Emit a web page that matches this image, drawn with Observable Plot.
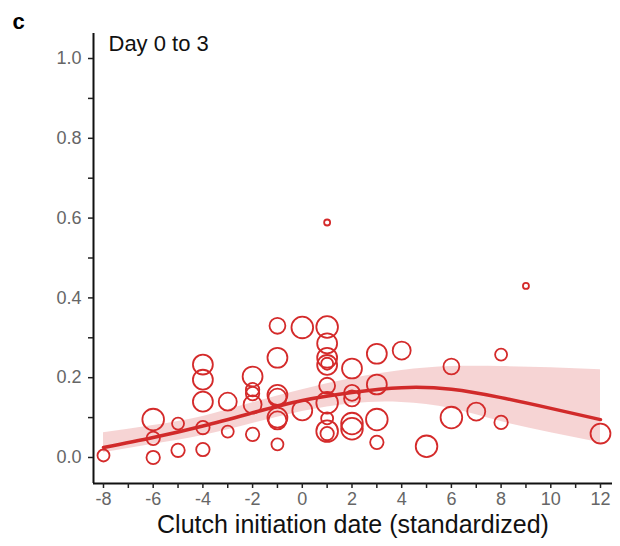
<!DOCTYPE html>
<html>
<head>
<meta charset="utf-8">
<script src="https://cdn.jsdelivr.net/npm/d3@7"></script>
<script src="https://cdn.jsdelivr.net/npm/@observablehq/plot@0.6"></script>
<style>
  body { margin: 0; background: #fff; }
</style>
</head>
<body>
<div id="chart"></div>
<script>
// Observed points: clutch initiation date, proportion, sample size
const ptX = [-8, -6, -6, -6, -5, -5, -4, -4, -4, -4, -4, -3, -3,
  -2, -2, -2, -2, -2, -1, -1, -1, -1, -1, -1, -1, 0, 0,
  1, 1, 1, 1, 1, 1, 1, 1, 1, 1, 1,
  2, 2, 2, 2, 2, 3, 3, 3, 3, 4, 5, 6, 6, 7, 8, 8, 9, 12];
const ptY = [0.005, 0.095, 0.048, 0.0, 0.085, 0.018, 0.233, 0.195, 0.14, 0.075, 0.02, 0.14, 0.065,
  0.203, 0.17, 0.16, 0.133, 0.058, 0.33, 0.25, 0.157, 0.15, 0.1, 0.093, 0.033, 0.326, 0.118,
  0.589, 0.327, 0.286, 0.25, 0.232, 0.235, 0.18, 0.137, 0.098, 0.066, 0.06,
  0.223, 0.162, 0.148, 0.085, 0.072, 0.26, 0.183, 0.095, 0.038, 0.268, 0.028, 0.228, 0.1, 0.115, 0.258, 0.088, 0.43, 0.06];
const ptN = [4, 13, 5, 5, 4, 5, 11, 11, 11, 5, 5, 9, 4,
  11, 5, 5, 9, 5, 7, 11, 11, 9, 11, 9, 4, 13, 11,
  1, 13, 11, 11, 11, 4, 7, 13, 4, 13, 5,
  11, 7, 7, 13, 13, 11, 11, 13, 5, 9, 13, 7, 13, 9, 4, 5, 1, 11];

// Fitted curve and confidence band
const fitX  = [-8, -6, -4, -2, 0, 2, 4, 6, 8, 10, 12];
const fitY  = [0.025, 0.05, 0.079, 0.112, 0.143, 0.163, 0.175, 0.171, 0.15, 0.123, 0.095];
const bandX = [-8, -6, -4, -2, 0, 2, 4, 6, 8, 10, 12];
const bandLo = [0.012, 0.033, 0.055, 0.085, 0.115, 0.135, 0.138, 0.123, 0.09, 0.062, 0.037];
const bandHi = [0.062, 0.08, 0.103, 0.137, 0.17, 0.198, 0.218, 0.228, 0.228, 0.225, 0.22];

// Axis ticks
const xLabeled = [-8, -6, -4, -2, 0, 2, 4, 6, 8, 10, 12];
const xMinor = [-7, -5, -3, -1, 1, 3, 5, 7, 9, 11];
const yLabeled = [0, 0.2, 0.4, 0.6, 0.8, 1.0];
const yMinor = [0.1, 0.3, 0.5, 0.7, 0.9];
const xDomain = [-8.402, 12.483];
const yDomain = [-0.0652, 1.0627];

const panelLabel = "c";
const subTitle = "Day 0 to 3";
const xTitle = "Clutch initiation date (standardized)";

const points = ptX.map((x, i) => ({x, y: ptY[i], n: ptN[i]}));
const fit = fitX.map((x, i) => ({x, y: fitY[i]}));
const band = bandX.map((x, i) => ({x, lo: bandLo[i], hi: bandHi[i]}));

const red = "#d42a2a";
const tickStroke = "#222";
const tickText = "#666";
const fmtX = d => d < 0 ? "-" + Math.abs(d) : String(d);

const chart = Plot.plot({
  width: 620,
  height: 546,
  marginLeft: 93,
  marginRight: 8,
  marginTop: 33,
  marginBottom: 63,
  style: {fontFamily: "'Liberation Sans', Arial, sans-serif", background: "#fff"},
  x: {domain: xDomain, axis: null},
  y: {domain: yDomain, axis: null},
  r: {domain: [0, 16], range: [0, 12]},
  marks: [
    Plot.areaY(band, {x: "x", y1: "lo", y2: "hi", fill: red, fillOpacity: 0.2, curve: "natural"}),
    Plot.dot(points, {x: "x", y: "y", r: "n", stroke: red, strokeWidth: 1.8, fill: "none"}),
    Plot.line(fit, {x: "x", y: "y", stroke: "#d12a2a", strokeWidth: 3.5, curve: "natural"}),
    Plot.ruleX([xDomain[0]], {stroke: "#111", strokeWidth: 2}),
    Plot.ruleY([yDomain[0]], {stroke: "#111", strokeWidth: 2}),
    Plot.axisX({ticks: xLabeled.concat(xMinor), tickSize: 5, tickFormat: () => "", stroke: tickStroke, strokeWidth: 1.5, label: null}),
    Plot.axisY({ticks: yLabeled.concat(yMinor), tickSize: 5, tickFormat: () => "", stroke: tickStroke, strokeWidth: 1.5, label: null}),
    Plot.text(xLabeled, {x: d => d, y: yDomain[0], text: fmtX, dy: 16, lineAnchor: "middle", fontSize: "18px", fill: tickText}),
    Plot.text(yLabeled, {y: d => d, x: xDomain[0], text: d => d.toFixed(1), dx: -12, textAnchor: "end", lineAnchor: "middle", fontSize: "18px", fill: tickText}),
    Plot.text([xTitle], {frameAnchor: "bottom", dy: 41, lineAnchor: "middle", fontSize: 25, fill: "#111"}),
    Plot.text([subTitle], {frameAnchor: "top-left", dx: 15, dy: 10, textAnchor: "start", lineAnchor: "middle", fontSize: 22, fill: "#111"}),
    Plot.text([panelLabel], {frameAnchor: "top-left", dx: -81, dy: -12, textAnchor: "start", lineAnchor: "middle", fontSize: 22, fontWeight: "bold", fill: "#000"})
  ]
});
document.getElementById("chart").appendChild(chart);
</script>
</body>
</html>
